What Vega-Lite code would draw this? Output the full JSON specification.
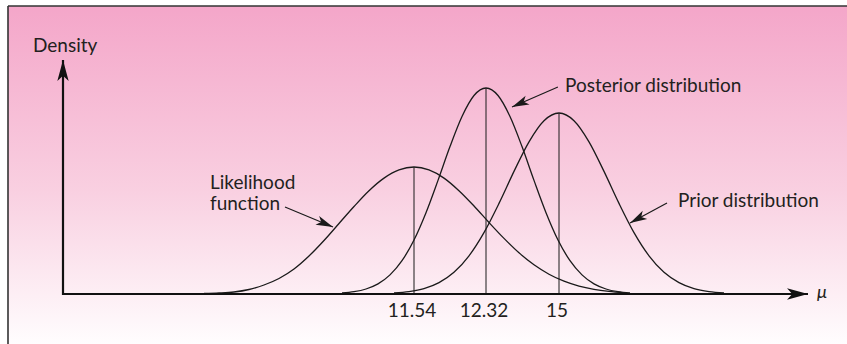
{
  "$schema": "https://vega.github.io/schema/vega-lite/v6.json",
  "width": 839,
  "height": 338,
  "autosize": {"type": "none"},
  "padding": {"left": 8, "top": 6, "right": 0, "bottom": 0},
  "background": "#ffffff",
  "config": {"view": {"stroke": null}, "font": "Lato"},
  "datasets": {
    "frame": [
      {"muMin": 7.48, "muMax": 20.76, "dMin": -0.05, "dMax": 0.288}
    ],
    "curves": [
      {"curve": "Likelihood function", "mu": 9.44, "density": 0.0005},
      {"curve": "Likelihood function", "mu": 9.59, "density": 0.001},
      {"curve": "Likelihood function", "mu": 9.74, "density": 0.002},
      {"curve": "Likelihood function", "mu": 9.89, "density": 0.0045},
      {"curve": "Likelihood function", "mu": 10.04, "density": 0.009},
      {"curve": "Likelihood function", "mu": 10.19, "density": 0.0155},
      {"curve": "Likelihood function", "mu": 10.34, "density": 0.025},
      {"curve": "Likelihood function", "mu": 10.49, "density": 0.038},
      {"curve": "Likelihood function", "mu": 10.64, "density": 0.0535},
      {"curve": "Likelihood function", "mu": 10.79, "density": 0.0705},
      {"curve": "Likelihood function", "mu": 10.94, "density": 0.0875},
      {"curve": "Likelihood function", "mu": 11.09, "density": 0.1033},
      {"curve": "Likelihood function", "mu": 11.24, "density": 0.1159},
      {"curve": "Likelihood function", "mu": 11.39, "density": 0.1241},
      {"curve": "Likelihood function", "mu": 11.54, "density": 0.127},
      {"curve": "Likelihood function", "mu": 11.702, "density": 0.1241},
      {"curve": "Likelihood function", "mu": 11.865, "density": 0.1159},
      {"curve": "Likelihood function", "mu": 12.027, "density": 0.1033},
      {"curve": "Likelihood function", "mu": 12.19, "density": 0.088},
      {"curve": "Likelihood function", "mu": 12.43, "density": 0.0715},
      {"curve": "Likelihood function", "mu": 12.981, "density": 0.0556},
      {"curve": "Likelihood function", "mu": 13.531, "density": 0.0412},
      {"curve": "Likelihood function", "mu": 14.082, "density": 0.0292},
      {"curve": "Likelihood function", "mu": 14.633, "density": 0.0198},
      {"curve": "Likelihood function", "mu": 15.1, "density": 0.0128},
      {"curve": "Likelihood function", "mu": 15.4, "density": 0.0079},
      {"curve": "Likelihood function", "mu": 15.7, "density": 0.0047},
      {"curve": "Likelihood function", "mu": 16.0, "density": 0.0026},
      {"curve": "Likelihood function", "mu": 16.3, "density": 0.0012},
      {"curve": "Posterior distribution", "mu": 10.82, "density": 0.001},
      {"curve": "Posterior distribution", "mu": 10.94, "density": 0.0023},
      {"curve": "Posterior distribution", "mu": 11.06, "density": 0.005},
      {"curve": "Posterior distribution", "mu": 11.18, "density": 0.0101},
      {"curve": "Posterior distribution", "mu": 11.3, "density": 0.0191},
      {"curve": "Posterior distribution", "mu": 11.42, "density": 0.0333},
      {"curve": "Posterior distribution", "mu": 11.54, "density": 0.054},
      {"curve": "Posterior distribution", "mu": 11.67, "density": 0.0813},
      {"curve": "Posterior distribution", "mu": 11.8, "density": 0.1136},
      {"curve": "Posterior distribution", "mu": 11.93, "density": 0.1474},
      {"curve": "Posterior distribution", "mu": 12.06, "density": 0.1775},
      {"curve": "Posterior distribution", "mu": 12.19, "density": 0.1985},
      {"curve": "Posterior distribution", "mu": 12.32, "density": 0.206},
      {"curve": "Posterior distribution", "mu": 12.761, "density": 0.1985},
      {"curve": "Posterior distribution", "mu": 13.201, "density": 0.1775},
      {"curve": "Posterior distribution", "mu": 13.642, "density": 0.1474},
      {"curve": "Posterior distribution", "mu": 14.082, "density": 0.1136},
      {"curve": "Posterior distribution", "mu": 14.523, "density": 0.0813},
      {"curve": "Posterior distribution", "mu": 14.963, "density": 0.054},
      {"curve": "Posterior distribution", "mu": 15.22, "density": 0.0333},
      {"curve": "Posterior distribution", "mu": 15.46, "density": 0.0191},
      {"curve": "Posterior distribution", "mu": 15.7, "density": 0.0101},
      {"curve": "Posterior distribution", "mu": 15.94, "density": 0.005},
      {"curve": "Posterior distribution", "mu": 16.18, "density": 0.0023},
      {"curve": "Posterior distribution", "mu": 16.42, "density": 0.001},
      {"curve": "Prior distribution", "mu": 11.34, "density": 0.001},
      {"curve": "Prior distribution", "mu": 11.49, "density": 0.0024},
      {"curve": "Prior distribution", "mu": 11.648, "density": 0.0054},
      {"curve": "Prior distribution", "mu": 11.811, "density": 0.0114},
      {"curve": "Prior distribution", "mu": 11.973, "density": 0.0217},
      {"curve": "Prior distribution", "mu": 12.136, "density": 0.0382},
      {"curve": "Prior distribution", "mu": 12.298, "density": 0.0614},
      {"curve": "Prior distribution", "mu": 12.797, "density": 0.0906},
      {"curve": "Prior distribution", "mu": 13.348, "density": 0.1226},
      {"curve": "Prior distribution", "mu": 13.899, "density": 0.1522},
      {"curve": "Prior distribution", "mu": 14.449, "density": 0.1733},
      {"curve": "Prior distribution", "mu": 15.0, "density": 0.181},
      {"curve": "Prior distribution", "mu": 15.3, "density": 0.1733},
      {"curve": "Prior distribution", "mu": 15.6, "density": 0.1522},
      {"curve": "Prior distribution", "mu": 15.9, "density": 0.1226},
      {"curve": "Prior distribution", "mu": 16.2, "density": 0.0906},
      {"curve": "Prior distribution", "mu": 16.5, "density": 0.0614},
      {"curve": "Prior distribution", "mu": 16.8, "density": 0.0382},
      {"curve": "Prior distribution", "mu": 17.1, "density": 0.0217},
      {"curve": "Prior distribution", "mu": 17.4, "density": 0.0114},
      {"curve": "Prior distribution", "mu": 17.7, "density": 0.0054},
      {"curve": "Prior distribution", "mu": 18.0, "density": 0.0024},
      {"curve": "Prior distribution", "mu": 18.3, "density": 0.001}
    ],
    "means": [
      {"curve": "Likelihood function", "mu": 11.54, "peak": 0.127},
      {"curve": "Posterior distribution", "mu": 12.32, "peak": 0.206},
      {"curve": "Prior distribution", "mu": 15.0, "peak": 0.181}
    ],
    "arrows": [
      {"name": "Posterior", "kind": "label", "fromMu": 14.96, "fromD": 0.207, "toMu": 13.275, "toD": 0.187},
      {"name": "Prior", "kind": "label", "fromMu": 17.16, "fromD": 0.091, "toMu": 16.42, "toD": 0.071},
      {"name": "Likelihood", "kind": "label", "fromMu": 10.25, "fromD": 0.087, "toMu": 10.73, "toD": 0.067},
      {"name": "yaxis", "kind": "axis", "fromMu": 8.03, "fromD": -0.001, "toMu": 8.03, "toD": 0.234},
      {"name": "xaxis", "kind": "axis", "fromMu": 8.02, "fromD": 0, "toMu": 19.98, "toD": 0}
    ],
    "labels": [
      {"text": "Density", "mu": 7.73, "density": 0.248},
      {"text": "Posterior distribution", "mu": 15.12, "density": 0.208},
      {"text": "Prior distribution", "mu": 17.38, "density": 0.093},
      {"text": "Likelihood", "mu": 9.5, "density": 0.111},
      {"text": "function", "mu": 9.5, "density": 0.09}
    ],
    "ticks": [
      {"mu": 11.54, "label": "11.54", "labelD": -0.017},
      {"mu": 12.32, "label": "12.32", "labelD": -0.017},
      {"mu": 15.0, "label": "15", "labelD": -0.017}
    ],
    "axisTitle": [
      {"text": "μ", "mu": 20.16, "density": 0.001}
    ]
  },
  "layer": [
    {
      "data": {"name": "frame"},
      "mark": {"type": "rect", "fill": {"gradient": "linear", "x1": 0, "y1": 0, "x2": 0, "y2": 1, "stops": [{"offset": 0, "color": "#f4a6c9"}, {"offset": 0.55, "color": "#f9d0e1"}, {"offset": 1, "color": "#fffdfe"}]}, "stroke": null},
      "encoding": {
        "x": {"field": "muMin", "type": "quantitative", "axis": null, "scale": {"domain": [7.48, 11.54, 12.32, 15, 20.76], "range": [0, 406, 478, 551, 839], "nice": false, "zero": false}},
        "x2": {"field": "muMax"},
        "y": {"field": "dMin", "type": "quantitative", "axis": null, "scale": {"domain": [-0.05, 0.288], "nice": false, "zero": false}},
        "y2": {"field": "dMax"}
      }
    },
    {
      "data": {"name": "frame"},
      "mark": {"type": "rule", "color": "#333333", "strokeWidth": 1.5},
      "encoding": {
        "x": {"field": "muMin", "type": "quantitative", "axis": null},
        "x2": {"field": "muMax"},
        "y": {"field": "dMax", "type": "quantitative", "axis": null}
      }
    },
    {
      "data": {"name": "frame"},
      "mark": {"type": "rule", "color": "#333333", "strokeWidth": 1.6},
      "encoding": {
        "x": {"field": "muMin", "type": "quantitative", "axis": null},
        "y": {"field": "dMin", "type": "quantitative", "axis": null},
        "y2": {"field": "dMax"}
      }
    },
    {
      "data": {"name": "curves"},
      "mark": {"type": "line", "color": "#1a1a1a", "strokeWidth": 1.3, "interpolate": "monotone"},
      "encoding": {
        "x": {"field": "mu", "type": "quantitative", "axis": null, "scale": {"domain": [7.48, 11.54, 12.32, 15, 20.76], "range": [0, 406, 478, 551, 839], "nice": false, "zero": false}},
        "y": {"field": "density", "type": "quantitative", "axis": null, "scale": {"domain": [-0.05, 0.288], "nice": false, "zero": false}},
        "detail": {"field": "curve"}
      }
    },
    {
      "data": {"name": "means"},
      "mark": {"type": "rule", "color": "#1a1a1a", "strokeWidth": 1},
      "encoding": {
        "x": {"field": "mu", "type": "quantitative", "axis": null},
        "y": {"field": "peak", "type": "quantitative", "axis": null},
        "y2": {"datum": 0}
      }
    },
    {
      "data": {"name": "arrows"},
      "transform": [{"filter": "datum.kind == 'label'"}],
      "mark": {"type": "rule", "color": "#1a1a1a", "strokeWidth": 1.2},
      "encoding": {
        "x": {"field": "fromMu", "type": "quantitative", "axis": null},
        "y": {"field": "fromD", "type": "quantitative", "axis": null},
        "x2": {"field": "toMu"},
        "y2": {"field": "toD"}
      }
    },
    {
      "data": {"name": "arrows"},
      "transform": [{"filter": "datum.kind == 'axis'"}],
      "mark": {"type": "rule", "color": "#111111", "strokeWidth": 2.2},
      "encoding": {
        "x": {"field": "fromMu", "type": "quantitative", "axis": null},
        "y": {"field": "fromD", "type": "quantitative", "axis": null},
        "x2": {"field": "toMu"},
        "y2": {"field": "toD"}
      }
    },
    {
      "data": {"name": "arrows"},
      "transform": [{"filter": "datum.name == 'Posterior'"}],
      "mark": {"type": "point", "shape": "M0,0L-1,-0.28L-0.75,0L-1,0.28Z", "filled": true, "color": "#1a1a1a", "opacity": 1, "strokeWidth": 0, "size": 1156, "angle": 156},
      "encoding": {"x": {"field": "toMu", "type": "quantitative", "axis": null}, "y": {"field": "toD", "type": "quantitative", "axis": null}}
    },
    {
      "data": {"name": "arrows"},
      "transform": [{"filter": "datum.name == 'Prior'"}],
      "mark": {"type": "point", "shape": "M0,0L-1,-0.28L-0.75,0L-1,0.28Z", "filled": true, "color": "#1a1a1a", "opacity": 1, "strokeWidth": 0, "size": 1156, "angle": 151.6},
      "encoding": {"x": {"field": "toMu", "type": "quantitative", "axis": null}, "y": {"field": "toD", "type": "quantitative", "axis": null}}
    },
    {
      "data": {"name": "arrows"},
      "transform": [{"filter": "datum.name == 'Likelihood'"}],
      "mark": {"type": "point", "shape": "M0,0L-1,-0.28L-0.75,0L-1,0.28Z", "filled": true, "color": "#1a1a1a", "opacity": 1, "strokeWidth": 0, "size": 1156, "angle": 22.6},
      "encoding": {"x": {"field": "toMu", "type": "quantitative", "axis": null}, "y": {"field": "toD", "type": "quantitative", "axis": null}}
    },
    {
      "data": {"name": "arrows"},
      "transform": [{"filter": "datum.name == 'yaxis'"}],
      "mark": {"type": "point", "shape": "M0,0L-1,-0.27L-0.75,0L-1,0.27Z", "filled": true, "color": "#111111", "opacity": 1, "strokeWidth": 0, "size": 1764, "angle": 270},
      "encoding": {"x": {"field": "toMu", "type": "quantitative", "axis": null}, "y": {"field": "toD", "type": "quantitative", "axis": null}}
    },
    {
      "data": {"name": "arrows"},
      "transform": [{"filter": "datum.name == 'xaxis'"}],
      "mark": {"type": "point", "shape": "M0,0L-1,-0.27L-0.75,0L-1,0.27Z", "filled": true, "color": "#111111", "opacity": 1, "strokeWidth": 0, "size": 1764, "angle": 0},
      "encoding": {"x": {"field": "toMu", "type": "quantitative", "axis": null}, "y": {"field": "toD", "type": "quantitative", "axis": null}}
    },
    {
      "data": {"name": "ticks"},
      "mark": {"type": "text", "align": "center", "baseline": "middle", "font": "Lato", "fontSize": 19, "color": "#231f20", "dx": -2},
      "encoding": {
        "x": {"field": "mu", "type": "quantitative", "axis": null},
        "y": {"field": "labelD", "type": "quantitative", "axis": null},
        "text": {"field": "label"}
      }
    },
    {
      "data": {"name": "labels"},
      "mark": {"type": "text", "align": "left", "baseline": "middle", "font": "Lato", "fontSize": 19, "color": "#231f20"},
      "encoding": {
        "x": {"field": "mu", "type": "quantitative", "axis": null},
        "y": {"field": "density", "type": "quantitative", "axis": null},
        "text": {"field": "text"}
      }
    },
    {
      "data": {"name": "axisTitle"},
      "mark": {"type": "text", "align": "left", "baseline": "middle", "font": "Lato", "fontSize": 18, "fontStyle": "italic", "color": "#231f20"},
      "encoding": {
        "x": {"field": "mu", "type": "quantitative", "axis": null},
        "y": {"field": "density", "type": "quantitative", "axis": null},
        "text": {"field": "text"}
      }
    }
  ]
}
